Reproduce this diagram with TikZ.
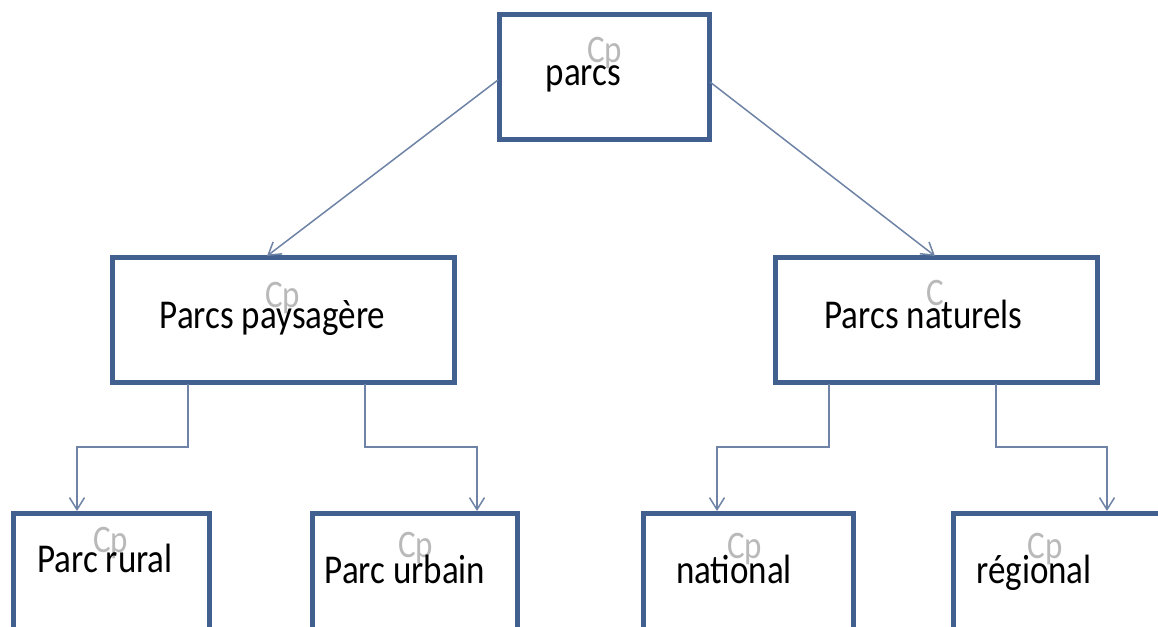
\documentclass[tikz,border=0pt]{standalone}
\usepackage{fontspec}
\setmainfont{Carlito}
\usetikzlibrary{arrows.meta,calc}
\definecolor{boxcol}{RGB}{65,96,143}
\definecolor{linecol}{RGB}{110,131,165}
\definecolor{cpcol}{RGB}{185,185,185}
\newcommand{\mytxt}[1]{\scalebox{1}[1.17]{\fontsize{35}{40}\selectfont #1}}
\newcommand{\mycp}[1]{\scalebox{1}[1.18]{\fontsize{33}{40}\selectfont #1}}
\tikzset{
  box/.style={draw=boxcol, line width=5pt, fill=white, rectangle, inner sep=0pt, outer sep=0pt},
  lbl/.style={anchor=base, inner sep=0pt, text=black},
  wm/.style={anchor=base, inner sep=0pt, text=cpcol},
  conn/.style={draw=linecol, line width=1.5pt, -{Straight Barb[length=12pt,width=15pt,line width=1.5pt]}}
}
\begin{document}
\begin{tikzpicture}[x=1pt,y=-1pt]
\useasboundingbox (0,0) rectangle (1158,626);
\fill[white] (0,0) rectangle (1158,626);
\clip (0,0) rectangle (1158,626);
% boxes
\node[box, minimum width=210, minimum height=124] (parcs) at (604,77) {};
\node[box, minimum width=342, minimum height=125] (pays) at (283,319.5) {};
\node[box, minimum width=322, minimum height=125] (nat) at (936,319.5) {};
\node[box, minimum width=196, minimum height=150] (rural) at (111,588) {};
\node[box, minimum width=205, minimum height=150] (urbain) at (414.5,588) {};
\node[box, minimum width=210, minimum height=150] (national) at (748,588) {};
\node[box, minimum width=214, minimum height=150] (regional) at (1060,588) {};
% watermarks
\node[wm] (cp1) at (604.5,63) {\mycp{Cp}};
\node[wm] (cp2) at (282.5,307) {\mycp{Cp}};
\node[wm] (cp3) at (935.5,305) {\mycp{C}};
\node[wm] (cp4) at (110.5,552) {\mycp{Cp}};
\node[wm] (cp5) at (415.5,557) {\mycp{Cp}};
\node[wm] (cp6) at (744.5,558) {\mycp{Cp}};
\node[wm] (cp7) at (1045,558) {\mycp{Cp}};
% labels
\node[lbl] (t1) at (583.5,85) {\mytxt{parcs}};
\node[lbl] (t2) at (272.5,328) {\mytxt{Parcs paysagère}};
\node[lbl] (t3) at (923.5,328) {\mytxt{Parcs naturels}};
\node[lbl] (t4) at (105,572) {\mytxt{Parc rural}};
\node[lbl] (t5) at (405,583) {\mytxt{Parc urbain}};
\node[lbl] (t6) at (734,583) {\mytxt{national}};
\node[lbl] (t7) at (1034,583) {\mytxt{régional}};
% connectors
\draw[conn] ($(parcs.west)+(-1,3)$) -- ($(pays.north)+(-16,-1)$);
\draw[conn] ($(parcs.east)+(1,5)$) -- ($(nat.north)+(-1,-1)$);
\draw[conn] ($(pays.south)+(-95,2)$) -- ++(0,63) -| ($(rural.north)+(-34,-2)$);
\draw[conn] ($(pays.south)+(82,2)$) -- ++(0,63) -| ($(urbain.north)+(62.5,-2)$);
\draw[conn] ($(nat.south)+(-107,2)$) -- ++(0,63) -| ($(national.north)+(-31,-2)$);
\draw[conn] ($(nat.south)+(60,2)$) -- ++(0,63) -| ($(regional.north)+(47,-2)$);
\end{tikzpicture}
\end{document}
